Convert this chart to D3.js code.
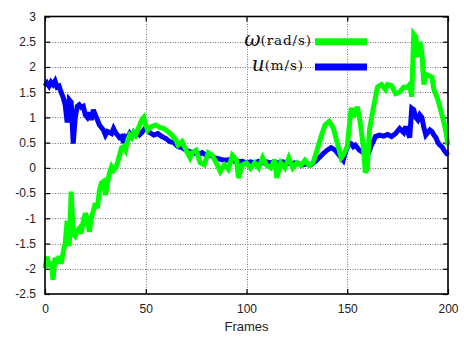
<!DOCTYPE html>
<html><head><meta charset="utf-8">
<script src="https://cdn.jsdelivr.net/npm/d3@7"></script>
<style>html,body{margin:0;padding:0;background:#fff;}</style>
</head><body>
<script>
const xTicks = [0, 50, 100, 150, 200];
const yTicks = [-2.5, -2, -1.5, -1, -0.5, 0, 0.5, 1, 1.5, 2, 2.5, 3];
const xLabel = "Frames";

const uFrames = [0,1,2,3,4,5,6,7,8,9,10,11,12,13,14,15,16,17,18,19,20,21,22,23,24,25,26,27,28,29,30,31,32,33,34,35,36,37,38,39,40,41,42,43,44,45,46,47,48,49,50,52,54,56,58,60,62,64,66,68,70,72,74,76,78,80,82,84,86,88,90,92,94,96,98,100,102,104,106,108,110,112,114,116,118,120,122,124,126,128,130,132,134,136,138,140,142,144,146,148,149,150,151,152,153,154,156,158,160,162,164,166,168,170,172,174,176,178,179,181,182,183,184,185,186,187,188,189,190,191,192,193,194,195,196,197,198,199,200];
const uValues = [1.62,1.68,1.62,1.7,1.65,1.72,1.6,1.62,1.5,1.4,1.25,0.9,1.35,1.3,0.48,1.0,1.22,1.25,1.2,1.22,1.05,1.0,1.1,0.95,1.15,1.05,0.95,0.85,0.8,0.75,0.65,0.72,0.7,0.68,0.78,0.7,0.65,0.6,0.62,0.5,0.62,0.6,0.68,0.62,0.7,0.65,0.72,0.66,0.7,0.75,0.8,0.7,0.65,0.68,0.62,0.58,0.52,0.5,0.42,0.4,0.35,0.32,0.3,0.26,0.3,0.25,0.25,0.2,0.18,0.16,0.15,0.17,0.13,0.12,0.13,0.1,0.12,0.1,0.13,0.1,0.12,0.1,0.12,0.1,0.12,0.1,0.08,0.1,0.08,0.06,0.08,0.06,0.12,0.2,0.28,0.35,0.4,0.35,0.25,0.15,0.3,0.4,0.5,0.48,0.42,0.45,0.35,0.3,0.22,0.45,0.62,0.65,0.63,0.66,0.62,0.68,0.78,0.7,0.82,0.6,1.18,1.15,1.0,0.95,1.05,1.0,0.8,0.65,0.7,0.75,0.72,0.65,0.6,0.5,0.45,0.42,0.35,0.3,0.25];

const wFrames = [0,1,2,3,4,5,6,7,8,9,10,11,12,13,14,15,16,17,18,19,20,21,22,23,24,25,26,27,28,29,30,31,32,33,34,35,36,37,38,39,40,41,42,43,44,45,46,47,48,49,50,51,52,53,55,57,59,61,63,65,66,68,70,72,73,75,77,79,81,83,85,87,89,91,93,95,96,98,100,102,104,106,108,110,112,114,115,117,119,121,123,125,127,129,131,133,135,137,139,141,143,145,147,148,150,151,152,153,155,156,158,159,160,161,163,165,167,169,170,172,174,176,178,180,181,182,183,184,185,186,187,188,189,191,192,193,195,196,198,199,200];
const wValues = [-1.99,-1.76,-1.96,-1.85,-2.22,-1.78,-1.9,-1.75,-1.9,-1.68,-1.5,-1.05,-1.55,-0.47,-1.3,-1.35,-1.25,-1.2,-1.3,-1.05,-0.9,-1.0,-1.27,-1.0,-0.85,-0.7,-0.8,-0.45,-0.3,-0.27,-0.54,-0.3,-0.1,0.02,-0.05,0.0,0.1,0.25,0.4,0.42,0.35,0.55,0.65,0.6,0.7,0.65,0.75,0.85,0.95,1.0,0.85,0.75,0.8,0.82,0.85,0.8,0.78,0.72,0.65,0.55,0.45,0.52,0.35,0.2,0.3,0.35,0.1,0.06,0.3,0.25,0.1,-0.07,0.06,-0.03,0.25,0.16,-0.2,0.06,0.1,-0.01,0.1,0.0,0.2,0.05,0.0,0.16,-0.2,0.1,0.0,0.2,0.0,0.1,0.05,0.15,0.05,0.1,0.35,0.62,0.85,0.92,0.8,0.5,0.2,0.25,0.42,0.82,1.19,1.0,1.21,1.02,0.42,-0.1,0.0,0.75,1.2,1.6,1.65,1.55,1.65,1.63,1.47,1.5,1.6,1.6,1.65,1.41,2.65,2.6,2.2,2.5,2.3,1.65,1.85,1.82,1.8,1.55,1.35,1.2,0.9,0.7,0.45];

const W = 464, H = 338;
const L = 45, R = 448, T = 16.5, B = 294;
const svg = d3.select("body").append("svg").attr("width", W).attr("height", H)
  .style("font-family", "'Liberation Sans', Arial, sans-serif");

const x = d3.scaleLinear().domain([0, 200]).range([L, R]);
const y = d3.scaleLinear().domain([-2.5, 3]).range([B, T]);

// grid
const grid = svg.append("g").attr("stroke", "#777").attr("stroke-width", 1).attr("stroke-dasharray", "1,1.5");
yTicks.forEach(v => {
  if (v === -2.5 || v === 3) return;
  grid.append("line").attr("x1", L).attr("x2", R).attr("y1", Math.round(y(v)) + 0.5).attr("y2", Math.round(y(v)) + 0.5);
});
xTicks.forEach(v => {
  if (v === 0 || v === 200) return;
  grid.append("line").attr("y1", T).attr("y2", B).attr("x1", Math.round(x(v)) + 0.5).attr("x2", Math.round(x(v)) + 0.5);
});

// axes with inward ticks
const yAxis = d3.axisLeft(y).tickValues(yTicks).tickSize(-5).tickPadding(9).tickFormat(d => d3.format("")(d).replace("−", "-"));
svg.append("g").attr("transform", `translate(${L},0)`).call(yAxis);
const xAxis = d3.axisBottom(x).tickValues(xTicks).tickSize(-5).tickPadding(10);
svg.append("g").attr("transform", `translate(0,${B})`).call(xAxis);
svg.append("g").attr("transform", `translate(${R},0)`).call(d3.axisRight(y).tickValues(yTicks).tickSize(-5).tickFormat(""));
svg.append("g").attr("transform", `translate(0,${T})`).call(d3.axisTop(x).tickValues(xTicks).tickSize(-5).tickFormat(""));
svg.selectAll(".domain").remove();
svg.selectAll(".tick line").attr("stroke", "#000").attr("stroke-width", 1.2);
svg.selectAll(".tick text").attr("font-size", 12).attr("fill", "#222").style("font-family", "'Liberation Sans', Arial, sans-serif");

// lines
const line = d3.line().x(d => x(d[0])).y(d => y(d[1]));
const uData = uFrames.map((f, i) => [f, uValues[i]]);
const wData = wFrames.map((f, i) => [f, wValues[i]]);
svg.append("path").datum(uData).attr("d", line).attr("fill", "none").attr("stroke", "#0000ff").attr("stroke-width", 5).attr("stroke-linejoin", "miter").attr("stroke-miterlimit", 3);
svg.append("path").datum(wData).attr("d", line).attr("fill", "none").attr("stroke", "#00ff00").attr("stroke-width", 5).attr("stroke-linejoin", "miter").attr("stroke-miterlimit", 3);

// border
svg.append("rect").attr("x", L).attr("y", T).attr("width", R - L).attr("height", B - T)
  .attr("fill", "none").attr("stroke", "#000").attr("stroke-width", 1.6);

// legend
const leg = svg.append("g").style("font-family", "'DejaVu Serif', 'Liberation Serif', serif").attr("fill", "#111");
const t1 = leg.append("text").attr("x", 312).attr("y", 46).attr("text-anchor", "end");
t1.append("tspan").attr("font-size", 20).attr("font-style", "italic").text("ω");
t1.append("tspan").attr("font-size", 13.5).attr("dy", -1).attr("letter-spacing", 0.9).text("(rad/s)");
const t2 = leg.append("text").attr("x", 304).attr("y", 71).attr("text-anchor", "end");
t2.append("tspan").attr("font-size", 20).attr("font-style", "italic").text("u");
t2.append("tspan").attr("font-size", 13.5).attr("dy", -1).attr("letter-spacing", 0.9).text("(m/s)");
leg.append("line").attr("x1", 315).attr("x2", 367).attr("y1", y(2.5)).attr("y2", y(2.5)).attr("stroke", "#00ff00").attr("stroke-width", 7);
leg.append("line").attr("x1", 315).attr("x2", 367).attr("y1", y(2)).attr("y2", y(2)).attr("stroke", "#0000ff").attr("stroke-width", 7);

svg.append("text").attr("x", x(100)).attr("y", 331).attr("text-anchor", "middle").attr("font-size", 13).attr("fill", "#222").text(xLabel);
</script>
</body></html>
